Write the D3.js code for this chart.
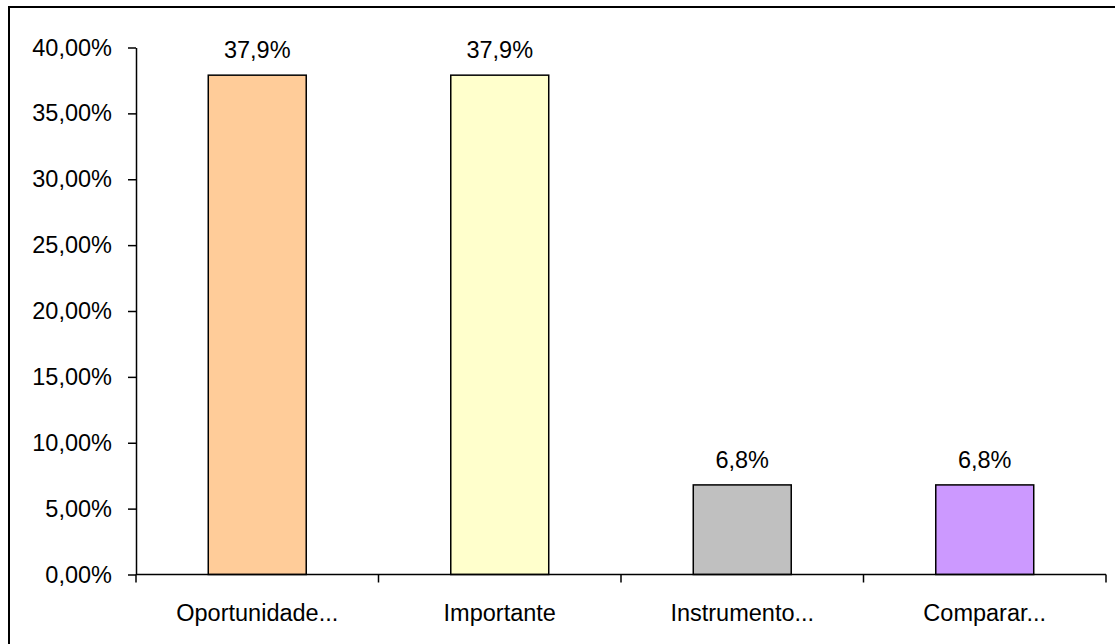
<!DOCTYPE html>
<html>
<head>
<meta charset="utf-8">
<script src="https://cdn.jsdelivr.net/npm/d3@7/dist/d3.min.js"></script>
<style>
  html, body { margin: 0; padding: 0; background: #fff; }
  svg { display: block; }
  text { font-family: "Liberation Sans", Arial, sans-serif; fill: #000; }
</style>
</head>
<body>
<svg id="chart" width="1115" height="644"></svg>
<script>
// Category labels, values (percent) and bar fills
const categories = ["Oportunidade...", "Importante", "Instrumento...", "Comparar..."];
const values = [37.9, 37.9, 6.8, 6.8];
const colors = ["#FFCC99", "#FFFFCC", "#C0C0C0", "#CC99FF"];
const yTicks = [0, 5, 10, 15, 20, 25, 30, 35, 40];

const svg = d3.select("#chart");
const fontSize = 23.5;

// Outer frame of the chart area
svg.append("rect")
  .attr("x", 9).attr("y", 7)
  .attr("width", 1200).attr("height", 700)
  .attr("fill", "none").attr("stroke", "#000").attr("stroke-width", 2);

const plot = { left: 136, right: 1106, top: 47.5, bottom: 574.5 };

const x = d3.scaleBand()
  .domain(categories)
  .range([plot.left, plot.right])
  .paddingInner(0.596)
  .paddingOuter(0.298);

const y = d3.scaleLinear()
  .domain([0, 40])
  .range([plot.bottom, plot.top]);

const fmtTick = d => d.toFixed(2).replace(".", ",") + "%";
const fmtLabel = d => d.toFixed(1).replace(".", ",") + "%";

// Bars
svg.append("g").selectAll("rect")
  .data(values)
  .join("rect")
  .attr("x", (d, i) => x(categories[i]))
  .attr("y", d => y(d))
  .attr("width", x.bandwidth())
  .attr("height", d => y(0) - y(d))
  .attr("fill", (d, i) => colors[i])
  .attr("stroke", "#000")
  .attr("stroke-width", 1.5);

// Value labels above bars
svg.append("g").selectAll("text")
  .data(values)
  .join("text")
  .attr("x", (d, i) => x(categories[i]) + x.bandwidth() / 2)
  .attr("y", d => y(d) - 17)
  .attr("text-anchor", "middle")
  .style("font-size", fontSize + "px")
  .text(d => fmtLabel(d));

// Y axis
const yAxis = svg.append("g")
  .attr("transform", `translate(${plot.left},0)`)
  .call(d3.axisLeft(y).tickValues(yTicks).tickFormat(fmtTick).tickSize(8).tickPadding(16).tickSizeOuter(0));
yAxis.select(".domain").attr("stroke", "#000").attr("stroke-width", 1.5);
yAxis.selectAll(".tick line").attr("stroke", "#000").attr("stroke-width", 1.5);
yAxis.selectAll(".tick text")
  .style("font-size", fontSize + "px")
  .style("font-family", "'Liberation Sans', Arial, sans-serif");
yAxis.attr("font-size", null).attr("font-family", null);

// X axis: ticks at band boundaries, labels centred in each band
const xAxis = svg.append("g")
  .attr("transform", `translate(0,${plot.bottom})`);
xAxis.append("line")
  .attr("x1", plot.left).attr("x2", plot.right)
  .attr("y1", 0).attr("y2", 0)
  .attr("stroke", "#000").attr("stroke-width", 1.5);
const boundaries = categories.map(c => x(c) - x.step() * x.paddingInner() / 2)
  .map((b, i) => i === 0 ? plot.left : b);
boundaries.push(plot.right);
xAxis.selectAll("line.tick")
  .data(boundaries)
  .join("line")
  .attr("class", "tick")
  .attr("x1", d => d).attr("x2", d => d)
  .attr("y1", 0).attr("y2", 8)
  .attr("stroke", "#000").attr("stroke-width", 1.5);
xAxis.selectAll("text")
  .data(categories)
  .join("text")
  .attr("x", d => x(d) + x.bandwidth() / 2)
  .attr("y", 46)
  .attr("text-anchor", "middle")
  .style("font-size", fontSize + "px")
  .text(d => d);
</script>
</body>
</html>
